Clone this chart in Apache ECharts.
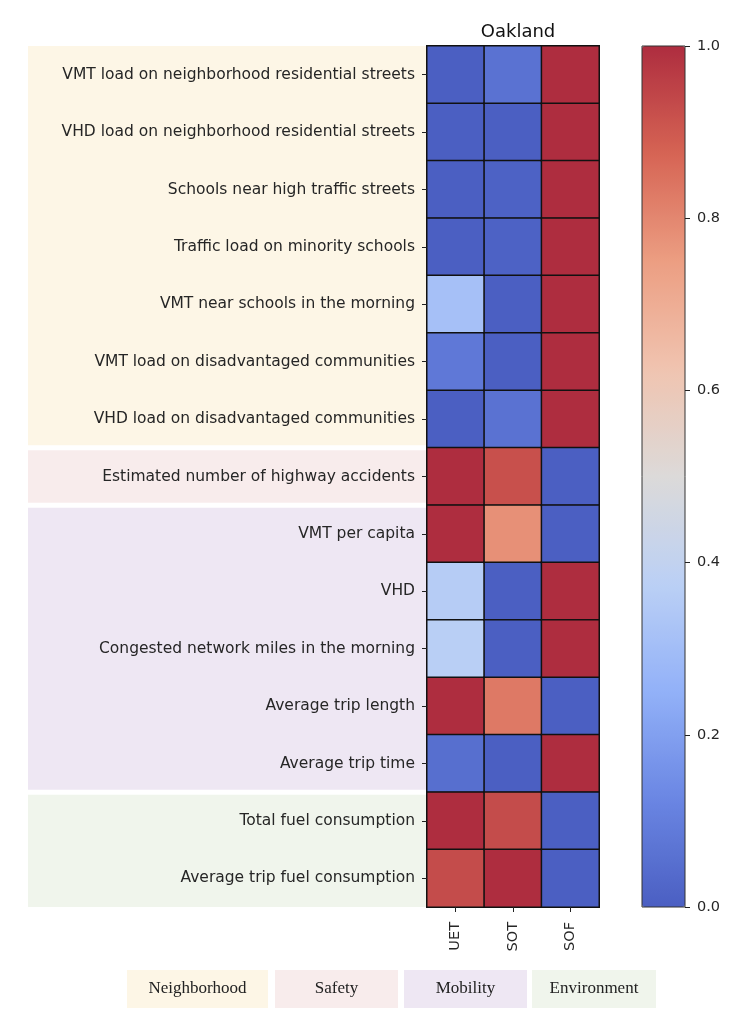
<!DOCTYPE html>
<html>
<head>
<meta charset="utf-8">
<script src="https://cdn.jsdelivr.net/npm/echarts@6/dist/echarts.min.js"></script>
<style>html,body{margin:0;padding:0;background:#fff}#c{width:748px;height:1024px}</style>
</head>
<body>
<div id="c"></div>
<script>
const categories = [
  'VMT load on neighborhood residential streets',
  'VHD load on neighborhood residential streets',
  'Schools near high traffic streets',
  'Traffic load on minority schools',
  'VMT near schools in the morning',
  'VMT load on disadvantaged communities',
  'VHD load on disadvantaged communities',
  'Estimated number of highway accidents',
  'VMT per capita',
  'VHD',
  'Congested network miles in the morning',
  'Average trip length',
  'Average trip time',
  'Total fuel consumption',
  'Average trip fuel consumption'
];
const methods = ['UET', 'SOT', 'SOF'];
const uet = [0.00, 0.00, 0.00, 0.00, 0.31, 0.08, 0.00, 1.00, 1.00, 0.36, 0.37, 1.00, 0.05, 1.00, 0.93];
const sot = [0.06, 0.00, 0.01, 0.01, 0.00, 0.00, 0.06, 0.92, 0.78, 0.00, 0.00, 0.83, 0.00, 0.93, 1.00];
const sof = [1.00, 1.00, 1.00, 1.00, 1.00, 1.00, 1.00, 0.00, 0.00, 1.00, 1.00, 0.00, 1.00, 0.00, 0.00];
const groupNames = ['Neighborhood', 'Safety', 'Mobility', 'Environment'];
const groupStart = [0, 7, 8, 13];
const groupEnd = [6, 7, 12, 14];
const groupColors = ['#fdf6e6', '#f8ecec', '#eee7f3', '#f0f5ec'];
const rampColors = ['#4b5fc2', '#6a86e3', '#92b1f8', '#bbd0f5', '#dcdad9', '#f0c4b0', '#ec9e82', '#d66454', '#ae2d3f'];

const heatData = [];
[uet, sot, sof].forEach((col, xi) => col.forEach((v, yi) => heatData.push([xi, yi, v])));
const bandData = groupNames.map((g, i) => [0, groupStart[i], groupEnd[i], i]);

const chart = echarts.init(document.getElementById('c'), null, {renderer: 'canvas'});
const G = {left: 427, top: 46, width: 172, height: 861};
const txt = '#262626';
const FONT = '"DejaVu Sans", sans-serif';

// legend boxes
const legendX = [127, 275, 404, 532];
const legendW = [141, 123, 123, 124];
const legendGraphics = [];
groupNames.forEach((g, i) => {
  legendGraphics.push({
    type: 'rect', left: legendX[i], top: 970,
    shape: {width: legendW[i], height: 38},
    style: {fill: groupColors[i]}, z: 1
  });
  legendGraphics.push({
    type: 'text', x: legendX[i] + legendW[i] / 2, y: 989,
    style: {text: g, fill: '#222', font: '17px "Liberation Serif", serif', align: 'center', verticalAlign: 'middle'}, z: 2
  });
});

chart.setOption({
  animation: false,
  title: {
    text: 'Oakland', left: 513, top: 18, textAlign: 'center',
    textStyle: {fontFamily: FONT, fontSize: 18, fontWeight: 'normal', color: '#111'}
  },
  grid: [
    {left: G.left, top: G.top, width: G.width, height: G.height, show: false},
    {left: 642, top: 46, width: 43, height: 861, show: true, borderColor: '#333', borderWidth: 1, backgroundColor: 'transparent', z: 10}
  ],
  xAxis: [
    {
      type: 'category', data: methods, gridIndex: 0, position: 'bottom', z: 10,
      axisLine: {show: false},
      axisTick: {show: true, alignWithLabel: true, length: 5, lineStyle: {color: '#222'}},
      axisLabel: {rotate: 90, margin: 15, fontFamily: FONT, fontSize: 14.5, color: txt},
      splitLine: {show: false}
    },
    {type: 'value', gridIndex: 1, show: false, min: 0, max: 1}
  ],
  yAxis: [
    {
      type: 'category', data: categories, gridIndex: 0, inverse: true, z: 10,
      axisLine: {show: false},
      axisTick: {show: true, alignWithLabel: true, length: 5, lineStyle: {color: '#222'}},
      axisLabel: {margin: 12, interval: 0, fontFamily: FONT, fontSize: 15.5, color: txt},
      splitLine: {show: false}
    },
    {
      type: 'value', gridIndex: 1, min: 0, max: 1, interval: 0.2, position: 'right', z: 10,
      axisLine: {show: false, onZero: false},
      axisTick: {show: true, inside: false, length: 5, lineStyle: {color: '#222', width: 1}},
      axisLabel: {margin: 12, fontFamily: FONT, fontSize: 14.5, color: txt, formatter: v => v.toFixed(1)},
      splitLine: {show: false}
    }
  ],
  visualMap: {
    type: 'continuous', seriesIndex: 0, min: 0, max: 1, calculable: false,
    orient: 'vertical', left: 642, top: 46, itemWidth: 43, itemHeight: 861,
    padding: 0, text: null, showLabel: false, z: 2, hoverLink: false,
    inRange: {color: rampColors}
  },
  graphic: legendGraphics,
  series: [
    {
      type: 'heatmap', xAxisIndex: 0, yAxisIndex: 0, data: heatData, z: 3,
      itemStyle: {borderColor: '#111', borderWidth: 1.5},
      emphasis: {disabled: true}, label: {show: false}
    },
    {
      type: 'custom', xAxisIndex: 0, yAxisIndex: 0, data: bandData, z: 1, clip: false, silent: true,
      renderItem: (params, api) => {
        const cs = params.coordSys;
        const bh = api.size([0, 1])[1];
        const s = api.value(1), e = api.value(2), gi = api.value(3);
        const gap = 2.5;
        let y0 = api.coord([0, s])[1] - bh / 2;
        let y1 = api.coord([0, e])[1] + bh / 2;
        if (s > 0) y0 += gap;
        if (e < categories.length - 1) y1 -= gap;
        return {
          type: 'rect',
          shape: {x: 28, y: y0, width: cs.x - 28, height: y1 - y0},
          style: {fill: groupColors[gi]}
        };
      }
    }
  ]
});
</script>
</body>
</html>
